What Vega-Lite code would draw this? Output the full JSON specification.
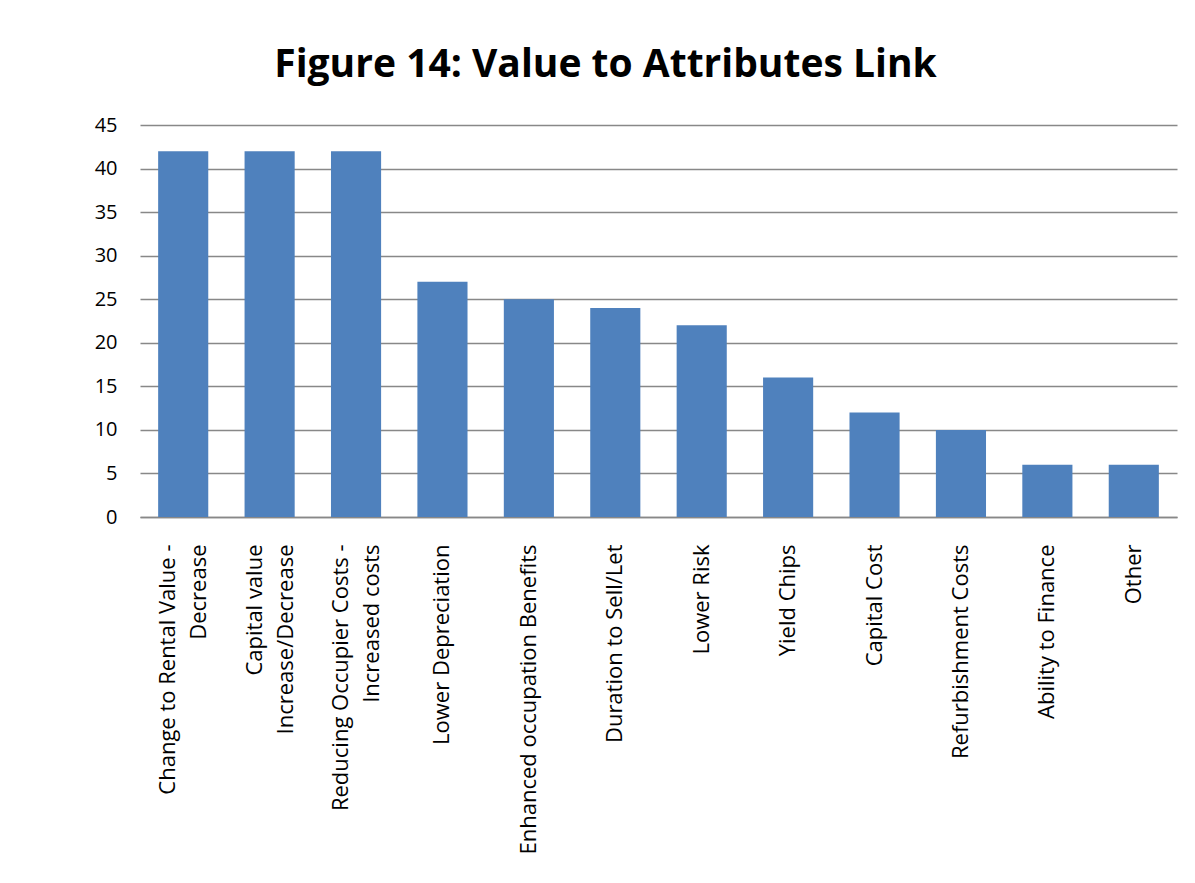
{
  "$schema": "https://vega.github.io/schema/vega-lite/v6.json",
  "autosize": "none",
  "width": 1037,
  "height": 392,
  "padding": {"left": 140, "top": 125, "right": 18, "bottom": 366},
  "background": "white",
  "title": {
    "text": "Figure 14: Value to Attributes Link",
    "font": "Open Sans",
    "fontSize": 39,
    "fontWeight": "bold",
    "color": "#000000",
    "anchor": "middle",
    "dx": -53,
    "offset": 30
  },
  "data": {
    "values": [
      {"attr": "Change to Rental Value -|Decrease", "count": 42},
      {"attr": "Capital value|Increase/Decrease", "count": 42},
      {"attr": "Reducing Occupier Costs -|Increased costs", "count": 42},
      {"attr": "Lower Depreciation", "count": 27},
      {"attr": "Enhanced occupation Benefits", "count": 25},
      {"attr": "Duration to Sell/Let", "count": 24},
      {"attr": "Lower Risk", "count": 22},
      {"attr": "Yield Chips", "count": 16},
      {"attr": "Capital Cost", "count": 12},
      {"attr": "Refurbishment Costs", "count": 10},
      {"attr": "Ability to Finance", "count": 6},
      {"attr": "Other", "count": 6}
    ]
  },
  "mark": {"type": "bar", "color": "#4F81BD"},
  "encoding": {
    "x": {
      "field": "attr",
      "type": "nominal",
      "sort": null,
      "scale": {"paddingInner": 0.42, "paddingOuter": 0.21},
      "axis": {
        "title": null,
        "labelAngle": -90,
        "labelAlign": "right",
        "labelBaseline": "middle",
        "labelExpr": "split(datum.label, '|')",
        "labelOffset": {"condition": {"test": "indexof(datum.value, '|') >= 0", "value": -15}, "value": 0},
        "labelFont": "Open Sans",
        "labelFontSize": 22,
        "labelColor": "#000000",
        "labelPadding": 27,
        "labelLineHeight": 31,
        "ticks": false,
        "domainColor": "#888888",
        "domainWidth": 1.5,
        "labelLimit": 400
      }
    },
    "y": {
      "field": "count",
      "type": "quantitative",
      "scale": {"domain": [0, 45]},
      "axis": {
        "title": null,
        "values": [0, 5, 10, 15, 20, 25, 30, 35, 40, 45],
        "labelFont": "Open Sans",
        "labelFontSize": 20,
        "labelColor": "#000000",
        "labelPadding": 23,
        "ticks": false,
        "domain": false,
        "grid": true,
        "gridColor": "#888888",
        "gridWidth": 1.5
      }
    }
  },
  "config": {"view": {"stroke": null}}
}
